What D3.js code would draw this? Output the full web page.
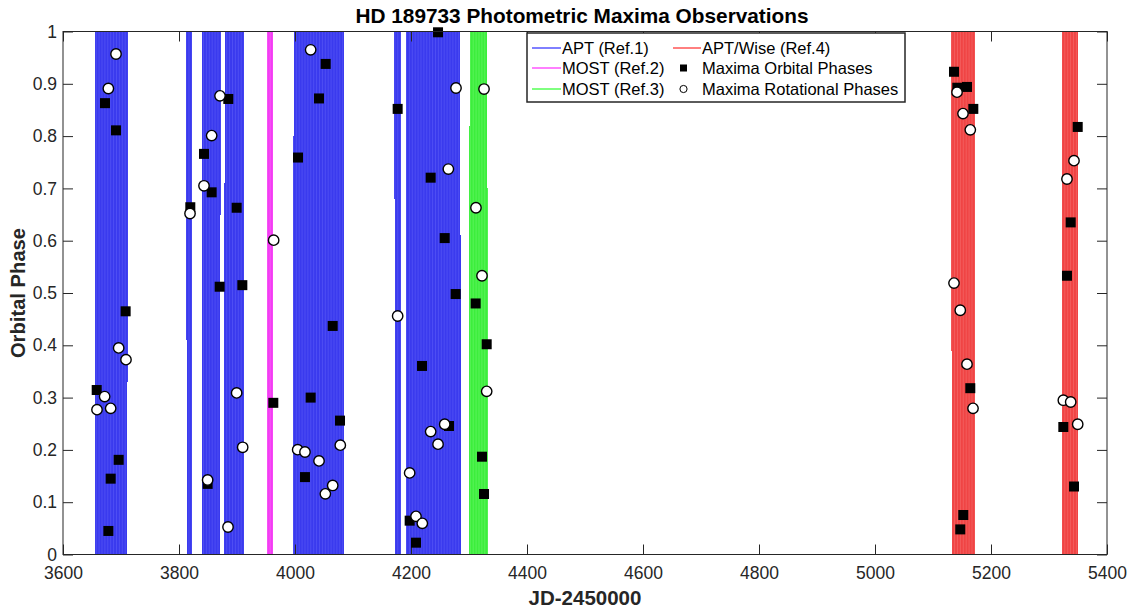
<!DOCTYPE html>
<html>
<head>
<meta charset="utf-8">
<script src="https://cdn.jsdelivr.net/npm/d3@7/dist/d3.min.js"></script>
<style>
  html, body { margin: 0; padding: 0; background: #fff; }
  svg { display: block; }
  text { font-family: "Liberation Sans", Arial, Helvetica, sans-serif; }
</style>
</head>
<body>
<svg id="chart" width="1133" height="612"></svg>
<script>
// ---------- data ----------
// observation windows: [JD start, JD end, phase low, phase high]
const aptBands = [
  [3656, 3711, 0, 1], [3655, 3656, 0.19, 1], [3711, 3712.5, 0.33, 1],
  [3814, 3822, 0, 1], [3812, 3814, 0.41, 1],
  [3840, 3871, 0, 1], [3871, 3872, 0.65, 1],
  [3878.5, 3912, 0, 1], [3877.6, 3878.5, 0, 0.71],
  [3998, 4084.5, 0, 1], [3997, 3998, 0, 0.8],
  [4172, 4182, 0, 1], [4170.5, 4172, 0.68, 1],
  [4192, 4285, 0, 1], [4191.3, 4192, 0, 0.69], [4285, 4286, 0, 0.61]
];
const most2Bands = [
  [3952.5, 3962.5, 0, 1], [3951.5, 3952.5, 0.066, 1]
];
const most3Bands = [
  [4301, 4331, 0, 1], [4300.3, 4301, 0, 0.82], [4331, 4332, 0, 0.70]
];
const wiseBands = [
  [5132, 5172.5, 0, 1], [5131, 5132, 0.39, 1],
  [5323, 5350.5, 0, 1]
];

// Maxima Orbital Phases (filled squares): [JD, phase]
const orbitalMaxima = [
  [3658.1, 0.3145], [3672.4, 0.863], [3678.2, 0.045], [3682.2, 0.145],
  [3691.4, 0.811], [3696.0, 0.181], [3708.0, 0.465],
  [3819.5, 0.664], [3843.1, 0.766], [3849.4, 0.135], [3856.3, 0.6925],
  [3870.1, 0.512], [3885.0, 0.871], [3899.4, 0.663], [3909.2, 0.515],
  [3962.6, 0.290],
  [4005.2, 0.759], [4017.2, 0.148], [4027.0, 0.300], [4041.4, 0.872],
  [4052.9, 0.938], [4065.0, 0.437], [4077.6, 0.256],
  [4177.0, 0.852], [4197.7, 0.0647], [4208.6, 0.0226], [4219.0, 0.3605],
  [4233.9, 0.7205], [4246.6, 0.9985], [4258.1, 0.605], [4265.5, 0.2457],
  [4277.0, 0.498],
  [4311.5, 0.480], [4322.4, 0.187], [4325.9, 0.1157], [4330.5, 0.402],
  [5136.2, 0.923], [5141.9, 0.8925], [5147.0, 0.048], [5152.2, 0.0755],
  [5158.6, 0.894], [5164.3, 0.318], [5169.5, 0.852],
  [5324.7, 0.2438], [5331.0, 0.533], [5337.4, 0.635], [5343.1, 0.130],
  [5349.5, 0.8175]
];

// Maxima Rotational Phases (open circles): [JD, phase]
const rotationalMaxima = [
  [3658.6, 0.277], [3671.8, 0.302], [3678.2, 0.891], [3682.2, 0.2795],
  [3691.4, 0.957], [3696.0, 0.395], [3708.6, 0.3725],
  [3819.0, 0.652], [3843.1, 0.705], [3849.4, 0.1425], [3856.3, 0.801],
  [3870.7, 0.877], [3884.5, 0.0526], [3899.4, 0.309], [3909.8, 0.205],
  [3963.2, 0.601],
  [4004.6, 0.2005], [4017.2, 0.196], [4027.0, 0.965], [4041.4, 0.179],
  [4052.3, 0.116], [4065.0, 0.132], [4078.1, 0.209],
  [4177.0, 0.456], [4197.7, 0.156], [4208.6, 0.073], [4219.5, 0.0596],
  [4233.9, 0.235], [4246.6, 0.211], [4258.1, 0.249], [4264.4, 0.737],
  [4277.6, 0.892],
  [4312.0, 0.663], [4322.4, 0.533], [4325.9, 0.890], [4330.5, 0.312],
  [5136.2, 0.519], [5141.4, 0.884], [5147.0, 0.467], [5151.7, 0.843],
  [5158.6, 0.364], [5164.3, 0.812], [5169.0, 0.2795],
  [5324.7, 0.295], [5331.0, 0.718], [5337.4, 0.2916], [5343.1, 0.753],
  [5349.5, 0.249]
];

const xTicks = [3600, 3800, 4000, 4200, 4400, 4600, 4800, 5000, 5200, 5400];
const yTicks = [0, 0.1, 0.2, 0.3, 0.4, 0.5, 0.6, 0.7, 0.8, 0.9, 1];
const yTickLabels = ["0", "0.1", "0.2", "0.3", "0.4", "0.5", "0.6", "0.7", "0.8", "0.9", "1"];

const seriesNames = ["APT (Ref.1)", "MOST (Ref.2)", "MOST (Ref.3)", "APT/Wise (Ref.4)",
                     "Maxima Orbital Phases", "Maxima Rotational Phases"];
const titleText = "HD 189733 Photometric Maxima Observations";
const xLabel = "JD-2450000";
const yLabel = "Orbital Phase";

// ---------- drawing ----------
const svg = d3.select("#chart");
const L = 63, R = 1107, T = 31.5, B = 554.5;
const x = d3.scaleLinear().domain([3600, 5400]).range([L, R]);
const y = d3.scaleLinear().domain([0, 1]).range([B, T]);

const axisColor = "#262626";

// stripe patterns to mimic the dense phase lines
const defs = svg.append("defs");
const bandStyles = [
  {id: "pBlue", base: "#3a3aee", light: "#5a5af6", data: aptBands, legend: "#0000ff"},
  {id: "pMag", base: "#f33cf3", light: "#fa66fa", data: most2Bands, legend: "#ff00ff"},
  {id: "pGreen", base: "#3cee3c", light: "#6cf56c", data: most3Bands, legend: "#00ff00"},
  {id: "pRed", base: "#f04444", light: "#f56a6a", data: wiseBands, legend: "#ff0000"}
];
bandStyles.forEach(s => {
  const p = defs.append("pattern").attr("id", s.id)
    .attr("patternUnits", "userSpaceOnUse").attr("width", 2.9).attr("height", 10);
  p.append("rect").attr("width", 2.9).attr("height", 10).attr("fill", s.base);
  p.append("rect").attr("x", 0).attr("width", 0.6).attr("height", 10).attr("fill", s.light);
});

bandStyles.forEach(s => {
  svg.append("g").selectAll("rect").data(s.data).join("rect")
    .attr("x", d => x(d[0]))
    .attr("width", d => Math.max(0.5, x(d[1]) - x(d[0])))
    .attr("y", d => y(d[3]))
    .attr("height", d => y(d[2]) - y(d[3]))
    .attr("fill", `url(#${s.id})`)
    .attr("shape-rendering", "crispEdges");
});

// axes box + ticks
const ax = svg.append("g");
const tl = 10;
ax.append("g").attr("transform", `translate(0,${B})`)
  .call(d3.axisBottom(x).tickValues(xTicks).tickSize(-tl).tickPadding(12).tickFormat(d3.format("d")))
  .call(g => g.select(".domain").remove());
ax.append("g").attr("transform", `translate(0,${T})`)
  .call(d3.axisTop(x).tickValues(xTicks).tickSize(-tl).tickFormat(""))
  .call(g => g.select(".domain").remove());
ax.append("g").attr("transform", `translate(${L},0)`)
  .call(d3.axisLeft(y).tickValues(yTicks).tickSize(-tl).tickPadding(6)
    .tickFormat((d, i) => yTickLabels[i]))
  .call(g => g.select(".domain").remove());
ax.append("g").attr("transform", `translate(${R},0)`)
  .call(d3.axisRight(y).tickValues(yTicks).tickSize(-tl).tickFormat(""))
  .call(g => g.select(".domain").remove());
ax.selectAll(".tick line").attr("stroke", axisColor).attr("stroke-width", 1);
ax.selectAll(".tick text").attr("fill", axisColor)
  .style("font-size", "17.5px").style("font-family", '"Liberation Sans", Arial, sans-serif');

// markers: squares then circles
const sq = 10;
svg.append("g").selectAll("rect").data(orbitalMaxima).join("rect")
  .attr("x", d => x(d[0]) - sq / 2).attr("y", d => y(d[1]) - sq / 2)
  .attr("width", sq).attr("height", sq).attr("fill", "#000");
svg.append("g").selectAll("circle").data(rotationalMaxima).join("circle")
  .attr("cx", d => x(d[0])).attr("cy", d => y(d[1])).attr("r", 5.2)
  .attr("fill", "#fff").attr("stroke", "#000").attr("stroke-width", 1.4);

// box outline
svg.append("rect").attr("x", L).attr("y", T).attr("width", R - L).attr("height", B - T)
  .attr("fill", "none").attr("stroke", axisColor).attr("stroke-width", 1);

// title & axis labels
svg.append("text").attr("x", (L + R) / 2 - 3).attr("y", 23).attr("text-anchor", "middle")
  .style("font-size", "20.8px").style("font-weight", "bold").attr("fill", "#000").text(titleText);
svg.append("text").attr("x", (L + R) / 2).attr("y", 605).attr("text-anchor", "middle")
  .style("font-size", "20.5px").style("font-weight", "bold").attr("fill", axisColor).text(xLabel);
svg.append("text").attr("transform", `translate(25,${(T + B) / 2}) rotate(-90)`)
  .attr("text-anchor", "middle")
  .style("font-size", "20.2px").style("font-weight", "bold").attr("fill", axisColor).text(yLabel);

// legend
const lg = svg.append("g");
lg.append("rect").attr("x", 527).attr("y", 33).attr("width", 378).attr("height", 69)
  .attr("fill", "#fff").attr("stroke", axisColor).attr("stroke-width", 1.5);
const rowsY = [48, 68, 89];
const leftEntries = [
  {name: seriesNames[0], color: bandStyles[0].legend},
  {name: seriesNames[1], color: bandStyles[1].legend},
  {name: seriesNames[2], color: bandStyles[2].legend}
];
leftEntries.forEach((e, i) => {
  lg.append("line").attr("x1", 532).attr("x2", 561).attr("y1", rowsY[i]).attr("y2", rowsY[i])
    .attr("stroke", e.color).attr("stroke-width", 1);
  lg.append("text").attr("x", 562).attr("y", rowsY[i] + 6).style("font-size", "16.5px")
    .attr("fill", "#000").text(e.name);
});
lg.append("line").attr("x1", 673).attr("x2", 701).attr("y1", rowsY[0]).attr("y2", rowsY[0])
  .attr("stroke", bandStyles[3].legend).attr("stroke-width", 1);
lg.append("text").attr("x", 702).attr("y", rowsY[0] + 6).style("font-size", "16.5px").text(seriesNames[3]);
lg.append("rect").attr("x", 683.5 - 3.5).attr("y", rowsY[1] - 3.5).attr("width", 7).attr("height", 7).attr("fill", "#000");
lg.append("text").attr("x", 702).attr("y", rowsY[1] + 6).style("font-size", "16.5px").text(seriesNames[4]);
lg.append("circle").attr("cx", 683.5).attr("cy", rowsY[2]).attr("r", 3.6)
  .attr("fill", "#fff").attr("stroke", "#000").attr("stroke-width", 1);
lg.append("text").attr("x", 702).attr("y", rowsY[2] + 6).style("font-size", "16.5px").text(seriesNames[5]);
</script>
</body>
</html>
